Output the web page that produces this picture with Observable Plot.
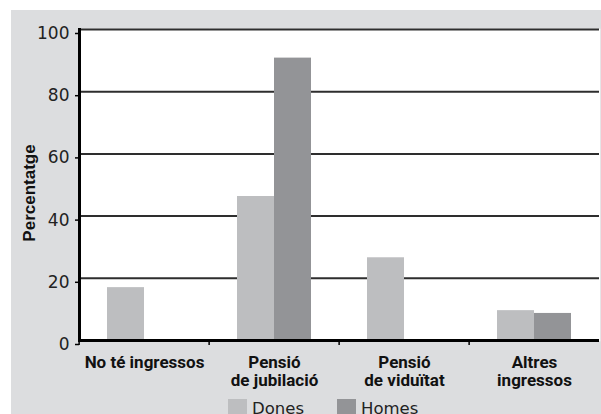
<!DOCTYPE html>
<html>
<head>
<meta charset="utf-8">
<script src="https://cdn.jsdelivr.net/npm/d3@7"></script>
<script src="https://cdn.jsdelivr.net/npm/@observablehq/plot@0.6"></script>
<style>
  html, body { margin: 0; padding: 0; background: #ffffff; }
  #wrap { position: absolute; left: 11px; top: 10px; width: 590px; height: 404px; background: #dcdddf; overflow: hidden; }
  #wrap svg { display: block; }
  .lg-swatches { margin-left: 217px !important; margin-top: -3px; font-family: "DejaVu Sans", sans-serif; font-size: 16.5px; color: #222; }
  .lg-swatch { margin-right: 33px !important; }
  .lg-swatch > svg { margin-right: 5px !important; }
</style>
</head>
<body>
<div id="wrap"></div>
<script>
const categories = ["No té ingressos", "Pensió\nde jubilació", "Pensió\nde viduïtat", "Altres\ningressos"];
const series = ["Dones", "Homes"];
const dones = [17, 46.3, 26.6, 9.6];
const homes = [0, 90.8, 0, 8.7];
const colors = ["#bdbec0", "#939497"];
const yTicks = [0, 20, 40, 60, 80, 100];
const yLabel = "Percentatge";

const data = [];
categories.forEach((c, i) => {
  data.push({category: c, series: series[0], value: dones[i]});
  data.push({category: c, series: series[1], value: homes[i]});
});

const width = 590, height = 385, mL = 66, mR = 1, mT = 19, mB = 55;
const bw = (width - mL - mR) / categories.length;

const chart = Plot.plot({
  width, height,
  marginLeft: mL, marginRight: mR, marginTop: mT, marginBottom: mB,
  style: {background: "transparent", overflow: "visible"},
  fx: {domain: categories, padding: 0},
  x: {domain: series, paddingInner: 0, paddingOuter: 0.74, axis: null},
  y: {domain: [0, 100]},
  color: {domain: series, range: colors},
  marks: [
    Plot.frame({fill: "white", stroke: "white", strokeWidth: 1.5}),
    Plot.ruleY(yTicks.filter(v => v > 0), {stroke: "#2e2e2e", strokeWidth: 2}),
    Plot.barY(data, {fx: "category", x: "series", y: "value", fill: "series"}),
    Plot.ruleY([0], {stroke: "black", strokeWidth: 3}),
    Plot.frame({anchor: "left", facetAnchor: "left", stroke: "black", strokeWidth: 3}),
    Plot.axisY({ticks: yTicks, tickSize: 4, tickPadding: 6, fontSize: 17, fontFamily: "DejaVu Sans", dy: 4, label: null, stroke: "black", strokeWidth: 1.5, fill: "#222"}),
    Plot.text([yLabel], {text: d => d, frameAnchor: "left", facetAnchor: "left", textAnchor: "middle", lineAnchor: "middle", rotate: -90, dx: -50, dy: 8, fontSize: 17, fontWeight: "bold", fontFamily: "Liberation Sans", fill: "#111"}),
    Plot.axisFx({anchor: "bottom", tickSize: 0, tickPadding: 14, fontSize: 17, fontWeight: "bold", fontFamily: "Roboto", lineHeight: 1.08, fill: "#111", label: null}),
    Plot.axisFx({anchor: "bottom", tickSize: 5, tickFormat: () => "", dx: -bw / 2, stroke: "black", strokeWidth: 1.5, label: null})
  ]
});

const wrap = document.getElementById("wrap");
wrap.appendChild(chart);
const legend = Plot.legend({color: {domain: series, range: colors}, swatchSize: 19, className: "lg"});
wrap.appendChild(legend);
</script>
</body>
</html>
